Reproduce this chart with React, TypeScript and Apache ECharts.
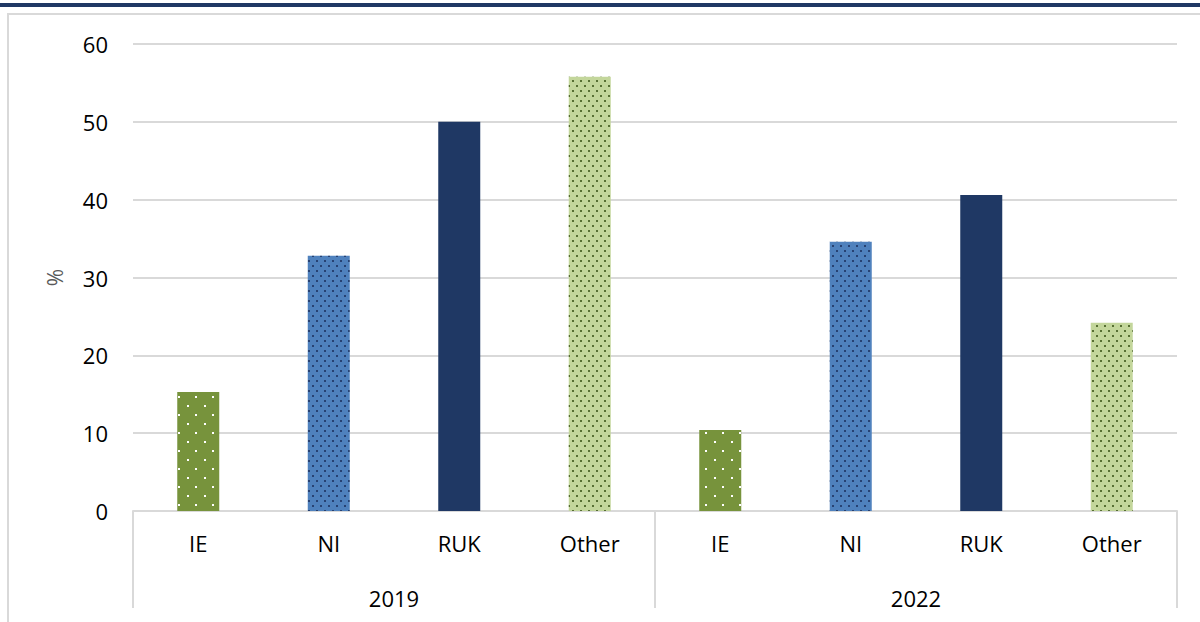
import React, { useEffect, useRef } from "react";
import * as echarts from "echarts";

const categories = ["IE", "NI", "RUK", "Other", "IE", "NI", "RUK", "Other"];
const years = ["2019", "2022"];
const values2019 = [15.3, 32.8, 50.0, 55.8];
const values2022 = [10.4, 34.6, 40.6, 24.2];
const yTicks = { min: 0, max: 60, interval: 10 };

const FONT = "'Open Sans', 'Noto Sans', sans-serif";

const styles = [
  {
    color: "#77933c",
    decal: {
      symbol: "rect",
      symbolSize: 1,
      color: "#ffffff",
      dashArrayX: [[2, 15], [0, 8, 2, 7]],
      dashArrayY: [2, 7],
    },
  },
  {
    color: "#4f81bd",
    decal: {
      symbol: "rect",
      symbolSize: 1,
      color: "rgba(25,45,90,0.75)",
      dashArrayX: [[2, 6], [0, 4, 2, 2]],
      dashArrayY: [2, 3],
    },
  },
  { color: "#1f3864", decal: null },
  {
    color: "#c3d69b",
    decal: {
      symbol: "rect",
      symbolSize: 1,
      color: "rgba(60,85,25,0.8)",
      dashArrayX: [[2, 6], [0, 4, 2, 2]],
      dashArrayY: [2, 3],
    },
  },
];

export default function App() {
  const ref = useRef<HTMLDivElement>(null);
  useEffect(() => {
    document.body.style.margin = "0";
    const chart = echarts.init(ref.current!, null, { renderer: "svg" });
    const allValues = [...values2019, ...values2022];
    const data = allValues.map((v, i) => {
      const s = styles[i % 4];
      const item: any = { value: v, itemStyle: { color: s.color } };
      if (s.decal) item.itemStyle.decal = s.decal;
      return item;
    });
    chart.setOption({
      animation: false,
      backgroundColor: "#ffffff",
      textStyle: { fontFamily: FONT },
      graphic: [
        {
          type: "rect",
          shape: { x: 0, y: 3, width: 1200, height: 4 },
          style: { fill: "#1f3864" },
          silent: true,
        },
        {
          type: "rect",
          shape: { x: 8, y: 14, width: 1200, height: 620 },
          style: { fill: "none", stroke: "#d9d9d9", lineWidth: 2 },
          silent: true,
        },
      ],
      grid: { left: 133, right: 23, top: 44, bottom: 111 },
      xAxis: [
        {
          type: "category",
          data: categories,
          position: "bottom",
          axisLine: { show: true, lineStyle: { color: "#d9d9d9", width: 2 } },
          axisTick: { show: false },
          axisLabel: { fontSize: 22, color: "#000", margin: 21, fontFamily: FONT },
        },
        {
          type: "category",
          data: years,
          position: "bottom",
          axisLine: { show: false },
          axisTick: {
            show: true,
            length: 97,
            lineStyle: { color: "#d9d9d9", width: 2 },
          },
          axisLabel: { fontSize: 22, color: "#000", margin: 76, fontFamily: FONT },
        },
      ],
      yAxis: {
        type: "value",
        min: yTicks.min,
        max: yTicks.max,
        interval: yTicks.interval,
        name: "%",
        nameLocation: "middle",
        nameGap: 68,
        nameTextStyle: { fontSize: 21, color: "#595959", fontFamily: FONT },
        axisLine: { show: false },
        axisTick: { show: false },
        axisLabel: { fontSize: 22, color: "#000", margin: 25, fontFamily: FONT },
        splitLine: { lineStyle: { color: "#d9d9d9", width: 2 } },
      },
      series: [
        {
          type: "bar",
          xAxisIndex: 0,
          data,
          barWidth: 42,
        },
      ],
    });
    return () => chart.dispose();
  }, []);
  return (
    <div
      ref={ref}
      style={{ position: "absolute", left: 0, top: 0, width: 1200, height: 622 }}
    />
  );
}
